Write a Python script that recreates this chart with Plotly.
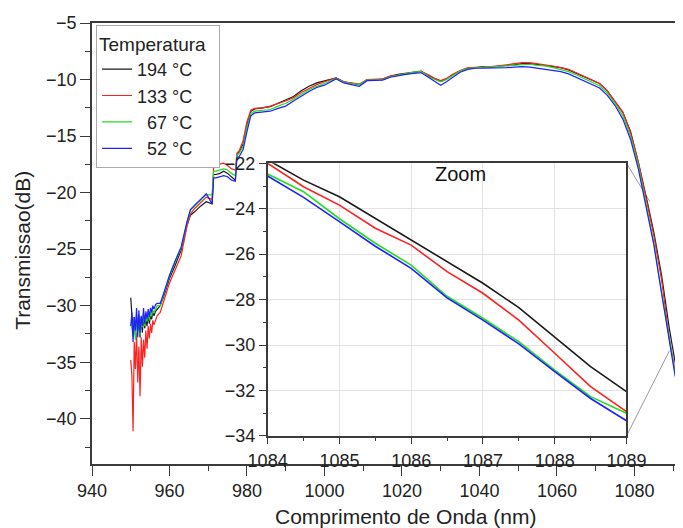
import plotly.graph_objects as go


# ------------------------------------------
# Data
# ------------------------------------------

PAD = "\u00a0" * 4
temps = ["194 °C" + PAD, "133 °C" + PAD,
         "\u00a0\u00a067 °C" + PAD, "\u00a0\u00a052 °C" + PAD]
colors = ["#1a1a1a", "#ff2020", "#22dd22", "#2020ff"]

wl = [
    950.0, 950.3, 950.6, 950.9, 951.2, 951.5, 951.8, 952.1, 952.4, 952.7,
    953.0, 953.3, 953.6, 953.9, 954.2, 954.5, 954.8, 955.1, 955.4, 955.7,
    956.0, 956.4, 956.8,
    957.6, 958.5, 960, 961.5, 963, 964.5, 965.4, 966.5, 968, 969.5,
    971.0, 971.4, 972, 973, 974, 975, 976, 977.0, 977.4, 978,
    979, 980, 981, 982, 984, 986, 988, 990, 992, 994,
    996, 998, 1000, 1003, 1005, 1007, 1009, 1011, 1013, 1015,
    1017, 1019, 1021, 1023, 1025, 1027, 1028.5, 1030, 1031.5, 1033,
    1035, 1037, 1039, 1041, 1043, 1045, 1047, 1049, 1051, 1053,
    1055, 1057, 1059, 1061, 1063, 1065, 1067, 1069, 1071, 1073,
    1075, 1077, 1079, 1081, 1083, 1085, 1087, 1089, 1090.5, 1092.5,
]

t194 = [
    -29.3, -31.5, -32.4, -31.0, -32.6, -30.8, -32.2, -31.2, -32.8, -31.0,
    -32.4, -30.9, -32.0, -31.2, -31.8, -30.8, -31.6, -30.9, -31.2, -30.6,
    -30.9, -30.5, -30.3,
    -30.0, -29.2, -27.6, -26.4, -25.1, -22.9, -22.0, -21.7, -21.2, -20.8,
    -21.0, -18.4, -18.4, -18.3, -18.1, -18.3, -18.6, -18.9, -16.7, -16.4,
    -15.7, -14.0, -12.8, -12.6, -12.5, -12.4, -12.1, -11.8, -11.5, -11.0,
    -10.6, -10.3, -10.1, -9.85, -10.2, -10.35, -10.45, -10.0, -10.05, -9.95,
    -9.7, -9.55, -9.45, -9.35, -9.25, -9.7, -9.95, -10.15, -9.95, -9.6,
    -9.25, -9.0, -8.95, -8.85, -8.9, -8.8, -8.75, -8.7, -8.6, -8.6,
    -8.7, -8.75, -8.85, -8.95, -9.15, -9.45, -9.75, -10.0, -10.35, -11.0,
    -11.9, -12.9, -14.6, -17.3, -20.3, -23.5, -27.3, -32.0, -35.0, -37.8,
]

t133 = [
    -34.8, -36.2, -41.1, -33.2, -35.6, -32.4, -36.8, -33.6, -38.0, -32.8,
    -35.4, -33.0, -34.6, -32.2, -33.8, -31.8, -32.9, -31.6, -32.4, -31.3,
    -31.7, -31.2, -30.9,
    -30.6, -29.6, -28.0, -26.8, -25.6, -23.0, -21.9, -21.4, -20.9, -20.4,
    -20.6, -17.6, -17.55, -17.5, -17.4, -17.6, -17.9, -18.0, -16.5, -16.3,
    -15.4, -13.7, -12.7, -12.55, -12.5, -12.35, -12.15, -11.9, -11.6, -11.15,
    -10.8, -10.45, -10.2, -9.85, -10.2, -10.3, -10.4, -10.0, -10.0, -9.95,
    -9.7, -9.6, -9.5, -9.4, -9.3, -9.6, -9.9, -10.1, -9.9, -9.55,
    -9.2, -8.95, -8.95, -8.9, -8.85, -8.8, -8.7, -8.6, -8.5, -8.5,
    -8.6, -8.65, -8.8, -8.95, -9.1, -9.4, -9.7, -10.0, -10.35, -11.0,
    -11.9, -12.9, -14.7, -17.3, -20.5, -23.8, -27.7, -32.9, -35.8, -38.5,
]

t67 = [
    -31.6, -32.0, -32.8, -31.2, -33.0, -31.5, -32.2, -30.8, -32.6, -31.4,
    -31.9, -30.7, -31.8, -31.0, -31.4, -30.6, -31.3, -30.5, -30.9, -30.4,
    -30.6, -30.2, -30.0,
    -30.0, -29.0, -27.4, -26.1, -24.9, -22.7, -21.6, -21.2, -20.7, -20.2,
    -20.2, -18.1, -18.1, -18.0, -17.9, -18.0, -18.3, -18.5, -16.7, -16.5,
    -15.9, -14.2, -13.0, -12.8, -12.75, -12.65, -12.35, -12.1, -11.75, -11.3,
    -10.9, -10.6, -10.35, -9.9, -10.25, -10.35, -10.45, -10.05, -10.05, -10.0,
    -9.75, -9.6, -9.5, -9.35, -9.3, -9.75, -10.0, -10.2, -10.0, -9.65,
    -9.25, -9.0, -8.95, -8.95, -8.9, -8.85, -8.75, -8.7, -8.65, -8.65,
    -8.75, -8.8, -8.95, -9.1, -9.3, -9.6, -9.9, -10.2, -10.55, -11.2,
    -12.1, -13.2, -15.0, -17.6, -21.0, -24.4, -28.8, -33.0, -36.0, -38.0,
]

t52 = [
    -31.8, -30.6, -33.2, -31.0, -32.2, -30.2, -32.8, -30.4, -32.4, -30.9,
    -31.8, -30.2, -31.6, -30.5, -31.2, -30.3, -31.0, -30.2, -30.6, -30.0,
    -30.3, -29.9, -29.8,
    -29.8, -28.9, -27.3, -26.0, -24.8, -22.6, -21.5, -21.1, -20.6, -20.1,
    -21.0, -18.7, -18.7, -18.6, -18.5, -18.6, -18.9, -19.0, -16.9, -16.8,
    -16.2, -14.6, -13.2, -12.95, -12.9, -12.8, -12.55, -12.35, -11.9, -11.45,
    -11.05, -10.7, -10.5, -9.95, -10.3, -10.45, -10.6, -10.1, -10.1, -10.05,
    -9.8, -9.65, -9.55, -9.45, -9.4, -9.85, -10.2, -10.5, -10.2, -9.8,
    -9.35, -9.1, -9.0, -9.0, -9.0, -8.95, -8.95, -8.9, -8.85, -8.9,
    -9.0, -9.1, -9.2, -9.3, -9.5, -9.8, -10.1, -10.4, -10.75, -11.4,
    -12.3, -13.5, -15.3, -17.9, -21.2, -24.6, -28.9, -33.3, -36.2, -37.5,
]

# zoom window (inset)
wl_zoom = [1084, 1084.5, 1085, 1085.5, 1086, 1086.5, 1087, 1087.5, 1088, 1088.5, 1089]
z194 = [-21.85, -22.74, -23.47, -24.42, -25.38, -26.3, -27.28, -28.35, -29.63, -30.95, -32.05]
z133 = [-22.0, -23.03, -23.84, -24.86, -25.6, -26.77, -27.72, -28.9, -30.36, -31.83, -32.93]
z67 = [-22.47, -23.25, -24.44, -25.52, -26.48, -27.85, -28.82, -29.85, -31.1, -32.27, -33.0]
z52 = [-22.56, -23.5, -24.57, -25.65, -26.62, -27.92, -28.9, -29.95, -31.17, -32.35, -33.33]

main_series = [t194, t133, t67, t52]
zoom_series = [z194, z133, z67, z52]

# ------------------------------------------
# Figure
# ------------------------------------------

FONT = "Liberation Sans, Arial, sans-serif"
X_RANGE = [940, 1094.6]
Y_RANGE = [-44, -5]
ZX_RANGE = [1084, 1089]
ZY_RANGE = [-34, -22]
INSET_X = [0.2932, 0.8923]
INSET_Y = [0.0635, 0.6819]

fig = go.Figure()

for name, ys, c in zip(temps, main_series, colors):
    fig.add_trace(
        go.Scatter(
            x=wl, y=ys, name=name, mode="lines",
            line=dict(color=c, width=1.2),
            xaxis="x", yaxis="y"
        )
    )

for name, ys, c in zip(temps, zoom_series, colors):
    fig.add_trace(
        go.Scatter(
            x=wl_zoom, y=ys, name=name, mode="lines",
            line=dict(color=c, width=1.6),
            xaxis="x2", yaxis="y2", showlegend=False
        )
    )


def to_paper(x, y):
    px = (x - X_RANGE[0]) / (X_RANGE[1] - X_RANGE[0])
    py = (y - Y_RANGE[0]) / (Y_RANGE[1] - Y_RANGE[0])
    return px, py


# connector lines from the inset corners to the zoomed region
top_end = to_paper(1084, -20.8)
bot_end = to_paper(1089, -34)
shapes = [
    dict(type="line", xref="paper", yref="paper",
         x0=INSET_X[1], y0=INSET_Y[1], x1=top_end[0], y1=top_end[1],
         line=dict(color="#9a9a9a", width=1), layer="below"),
    dict(type="line", xref="paper", yref="paper",
         x0=INSET_X[1], y0=INSET_Y[0], x1=bot_end[0], y1=bot_end[1],
         line=dict(color="#9a9a9a", width=1), layer="below"),
]

axis_common = dict(
    showline=True, linecolor="#3a3a3a", ticks="outside",
    tickcolor="#3a3a3a", tickfont=dict(size=18, color="#222"),
    showgrid=False, zeroline=False, automargin=False
)

fig.update_layout(
    width=683,
    height=528,
    margin=dict(l=84, r=0, t=15, b=72, autoexpand=False),
    paper_bgcolor="white",
    plot_bgcolor="white",
    font=dict(family=FONT, color="#222"),
    xaxis=dict(
        **axis_common, range=X_RANGE, domain=[0, 1], anchor="y",
        tick0=940, dtick=20, ticklen=10, linewidth=1.5, mirror=True,
        minor=dict(dtick=10, ticklen=5, ticks="outside", tickcolor="#3a3a3a")
    ),
    yaxis=dict(
        **axis_common, range=Y_RANGE, domain=[0, 1], anchor="x",
        tick0=0, dtick=5, ticklen=10, linewidth=1.5,
        minor=dict(dtick=2.5, ticklen=5, ticks="outside", tickcolor="#3a3a3a")
    ),
    xaxis2=dict(
        **{**axis_common, "showgrid": True}, range=ZX_RANGE, domain=INSET_X,
        anchor="y2", dtick=1, ticklen=6, linewidth=1.5, mirror=True,
        gridcolor="#e2e2e2", ticklabelstandoff=2,
        minor=dict(dtick=0.5, ticklen=3, ticks="outside", tickcolor="#3a3a3a")
    ),
    yaxis2=dict(
        **{**axis_common, "showgrid": True}, range=ZY_RANGE, domain=INSET_Y,
        anchor="x2", dtick=2, ticklen=7, linewidth=1.5, mirror=True,
        gridcolor="#e2e2e2",
        minor=dict(dtick=1, ticklen=3, ticks="outside", tickcolor="#3a3a3a")
    ),
    legend=dict(
        x=0.0067, y=0.995, xanchor="left", yanchor="top",
        bgcolor="white", bordercolor="#aaaaaa", borderwidth=1,
        font=dict(size=18, family=FONT, color="#222"),
        title=dict(text="Temperatura\u00a0\u00a0", font=dict(size=19, family=FONT)),
        tracegroupgap=0
    ),
    shapes=shapes,
    annotations=[
        dict(text="Zoom", x=0.6154, y=0.6576, xref="paper", yref="paper",
             showarrow=False, font=dict(size=20, family=FONT, color="#111"),
             xanchor="center", yanchor="middle"),
        dict(text="Comprimento de Onda (nm)", x=0.5226, y=-0.12,
             xref="paper", yref="paper", showarrow=False,
             font=dict(size=21, family=FONT, color="#222"),
             xanchor="center", yanchor="middle"),
        dict(text="Transmissao(dB)", x=-0.1173, y=0.485,
             xref="paper", yref="paper", showarrow=False, textangle=-90,
             font=dict(size=21, family=FONT, color="#222"),
             xanchor="center", yanchor="middle"),
    ],
    showlegend=True
)

fig.write_html("out.html")
